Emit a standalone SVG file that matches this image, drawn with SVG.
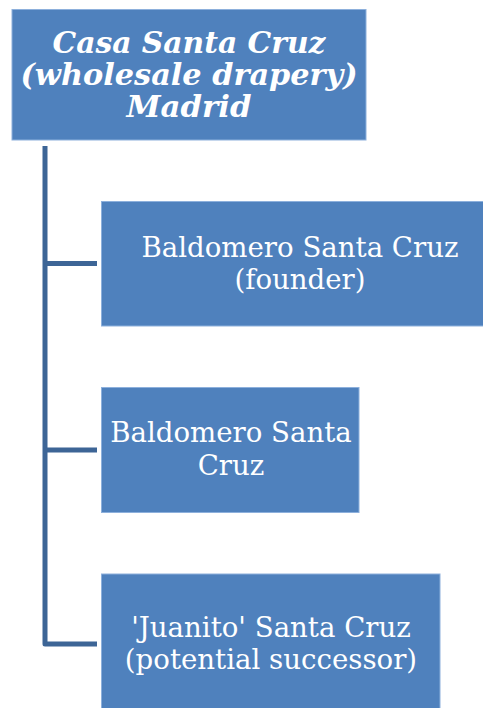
<svg xmlns="http://www.w3.org/2000/svg" width="483" height="708" viewBox="0 0 483 708">
<style>
.box{fill:#4F81BD;stroke:#8DB0DC;stroke-width:1}
.t{fill:#fff;font-family:"DejaVu Serif","Liberation Serif",serif;font-size:27.6px;text-anchor:middle}
.h{font-weight:bold;font-style:italic;font-size:29px}
.con{fill:none;stroke:#3D6596;stroke-width:5;stroke-linejoin:round}
</style>
<rect width="483" height="708" fill="#fff"/>
<g id="connectors">
<path class="con" d="M45,146 V644 H97"/>
<path class="con" d="M45,263.5 H97"/>
<path class="con" d="M45,450 H97"/>
</g>
<g id="root">
<rect class="box" x="12" y="9.5" width="354" height="130.5"/>
<text class="t h" x="189" y="52.5" textLength="273" lengthAdjust="spacingAndGlyphs">Casa Santa Cruz</text>
<text class="t h" x="189" y="84.5" textLength="337" lengthAdjust="spacingAndGlyphs">(wholesale drapery)</text>
<text class="t h" x="189" y="116.5" textLength="125" lengthAdjust="spacingAndGlyphs">Madrid</text>
</g>
<g id="n1">
<rect class="box" x="101.5" y="201.5" width="395" height="124.5"/>
<text class="t" x="300" y="256.5">Baldomero Santa Cruz</text>
<text class="t" x="300" y="288.5">(founder)</text>
</g>
<g id="n2">
<rect class="box" x="101.5" y="387.5" width="257.5" height="125"/>
<text class="t" x="231" y="442">Baldomero Santa</text>
<text class="t" x="231" y="474.5">Cruz</text>
</g>
<g id="n3">
<rect class="box" x="101.5" y="574" width="338.5" height="140"/>
<text class="t" x="271" y="637">'Juanito' Santa Cruz</text>
<text class="t" x="271" y="669">(potential successor)</text>
</g>
</svg>
